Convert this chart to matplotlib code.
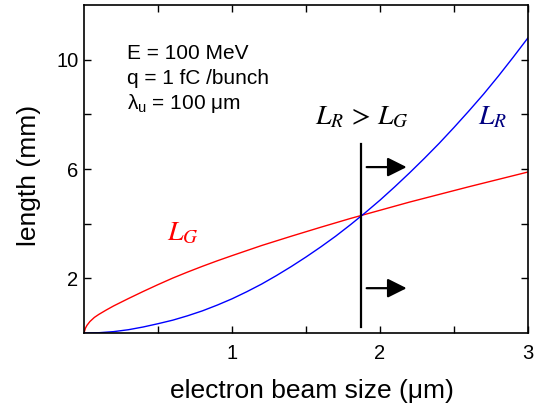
import matplotlib
matplotlib.use("Agg")
import matplotlib.pyplot as plt
from matplotlib.ticker import FixedLocator, FixedFormatter

plt.rcParams['font.family'] = ['Liberation Sans', 'DejaVu Sans']
plt.rcParams['mathtext.fontset'] = 'custom'
plt.rcParams['mathtext.rm'] = 'Liberation Sans'
plt.rcParams['mathtext.it'] = 'Liberation Sans'

# Gain length L_G versus electron beam size
sigma_g = [0, 0.01, 0.02, 0.04, 0.07, 0.1, 0.15, 0.2, 0.3, 0.4, 0.5, 0.6,
           0.7, 0.8, 0.9, 1.0, 1.2, 1.4, 1.6, 1.8, 2.0, 2.2, 2.4, 2.6, 2.8, 3.0]
L_G = [0, 0.18, 0.28, 0.42, 0.57, 0.68, 0.84, 0.99, 1.26, 1.52, 1.77, 2.01,
       2.23, 2.44, 2.64, 2.83, 3.20, 3.54, 3.87, 4.19, 4.49, 4.79, 5.07, 5.35,
       5.62, 5.89]

# Rayleigh length L_R versus electron beam size
sigma_r = [0, 0.1, 0.2, 0.3, 0.4, 0.5, 0.6, 0.7, 0.8, 0.9, 1.0, 1.1, 1.2,
           1.3, 1.4, 1.5, 1.6, 1.7, 1.8, 1.9, 2.0, 2.1, 2.2, 2.3, 2.4, 2.5,
           2.6, 2.7, 2.8, 2.9, 3.0]
L_R = [0, 0.01, 0.05, 0.12, 0.22, 0.34, 0.47, 0.63, 0.81, 1.02, 1.25, 1.51,
       1.79, 2.10, 2.43, 2.78, 3.15, 3.54, 3.96, 4.40, 4.86, 5.35, 5.86, 6.39,
       6.94, 7.52, 8.12, 8.74, 9.40, 10.09, 10.80]

# crossover where L_R overtakes L_G
sigma_cross = 1.87
cross_span = [0.22, 6.92]
arrow_levels = [6.07, 1.64]
arrow_x = [1.91, 2.18]

xticks = [0.5, 1.0, 1.5, 2.0, 2.5, 3.0]
xticklabels = ['', '1', '', '2', '', '3']
yticks = [2, 4, 6, 8, 10]
yticklabels = ['2', '', '6', '', '10']

params = ['E = 100 MeV', 'q = 1 fC /bunch', r'$\lambda_\mathrm{u}$ = 100 μm']
param_y = [10.03, 9.12, 8.19]

fig = plt.figure(figsize=(5.39, 4.11), dpi=100)
ax = fig.add_axes([84 / 539, 78 / 411, 444 / 539, 328 / 411])

ax.plot(sigma_g, L_G, color='#ff0000', lw=1.0)
ax.plot(sigma_r, L_R, color='#0000ff', lw=1.0)
ax.plot([sigma_cross, sigma_cross], cross_span, color='black', lw=1.6)

for yl in arrow_levels:
    ax.annotate('', xy=(arrow_x[1], yl), xytext=(arrow_x[0], yl),
                arrowprops=dict(arrowstyle='-|>,head_length=0.58,head_width=0.29',
                                color='black', lw=1.6, mutation_scale=20,
                                shrinkA=0, shrinkB=0))

for txt, yy in zip(params, param_y):
    ax.text(0.29, yy, txt, fontsize=15, ha='left', va='baseline')

ax.text(1.56, 7.65, r'$L_R\, >\, L_G$', fontsize=20, math_fontfamily='stix',
        ha='left', va='baseline', color='black')
ax.text(2.664, 7.65, r'$L_R$', fontsize=20, math_fontfamily='stix',
        ha='left', va='baseline', color='#000080')
ax.text(0.559, 3.38, r'$L_G$', fontsize=20, math_fontfamily='stix',
        ha='left', va='baseline', color='#ff0000')

ax.set_xlim(0, 3)
ax.set_ylim(0, 12)
ax.xaxis.set_major_locator(FixedLocator(xticks))
ax.xaxis.set_major_formatter(FixedFormatter(xticklabels))
ax.yaxis.set_major_locator(FixedLocator(yticks))
ax.yaxis.set_major_formatter(FixedFormatter(yticklabels))
ax.tick_params(direction='in', length=5, width=1.0, top=True, right=True,
               labelsize=14.5)
ax.tick_params(axis='x', pad=8)
ax.tick_params(axis='y', pad=4)
for s in ax.spines.values():
    s.set_linewidth(1.2)

ax.set_xlabel('electron beam size (μm)', fontsize=19)
ax.set_ylabel('length (mm)', fontsize=19)
ax.xaxis.set_label_coords(0.513, -0.14)
ax.yaxis.set_label_coords(-0.097, 0.48)

fig.savefig('out.png', dpi=100)
